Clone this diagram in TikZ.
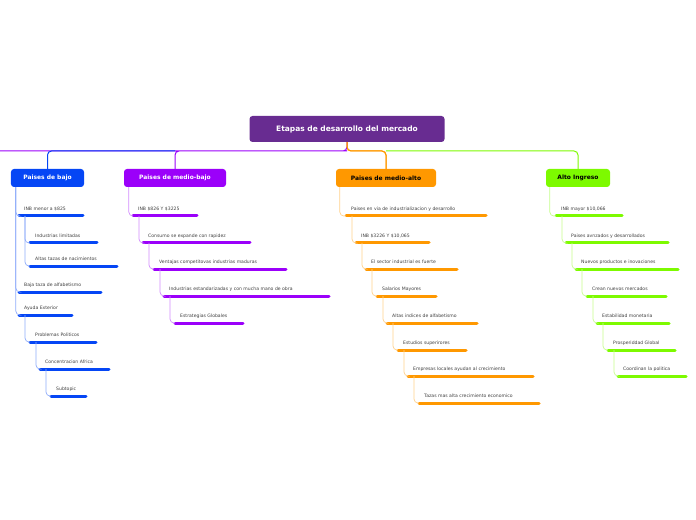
\documentclass[tikz,border=0pt]{standalone}
\usepackage{fontspec}
\setmainfont{DejaVu Sans}
\usetikzlibrary{calc}
\definecolor{rootpurple}{RGB}{104,44,145}
\definecolor{lowblue}{RGB}{5,70,245}
\definecolor{midpurple}{RGB}{155,0,250}
\definecolor{midorange}{RGB}{255,152,0}
\definecolor{highgreen}{RGB}{125,250,0}
\tikzset{
  rootbox/.style={rectangle, rounded corners=3pt, fill=rootpurple, text=white, font=\fontsize{7.5}{9}\selectfont\bfseries, minimum width=195bp, minimum height=26bp, inner sep=0pt},
  mainbox/.style={rectangle, rounded corners=3pt, font=\fontsize{6}{7}\selectfont\bfseries, minimum height=18bp, inner sep=0pt},
  subtxt/.style={anchor=west, inner sep=0pt, font=\fontsize{4.6}{5}\selectfont, text=black!75},
  bar/.style={line width=3bp, line cap=round},
  link/.style={line width=0.7bp, rounded corners=4bp},
  trunk/.style={line width=1bp, rounded corners=4bp}
}
% one sub topic: colour, name, x, y, bar end, text
\newcommand{\sub}[6]{%
  \node[subtxt] (#2) at (#3,#4) {#6};
  \draw[bar,#1] (#3-5,#4+7) coordinate (#2-l) -- (#5,#4+7) coordinate (#2-r);}
% connector from parent bar to child bar
\newcommand{\conn}[3]{\draw[link,#1!45] ($(#2)+(6,0)$) |- (#3);}
\begin{document}
\begin{tikzpicture}[x=1bp,y=-1bp]
\useasboundingbox (0,0) rectangle (696,520);

% Root
\node[rootbox] (root) at (347,129) {Etapas de desarrollo del mercado};

% Main topics
\node[mainbox, fill=lowblue, text=white, minimum width=73bp] (bajo) at (47.5,178) {Paises de bajo};
\node[mainbox, fill=midpurple, text=white, minimum width=102bp] (mbajo) at (175,178) {Paises de medio-bajo};
\node[mainbox, fill=midorange, text=black, minimum width=100bp] (malto) at (386,178) {Paises de medio-alto};
\node[mainbox, fill=highgreen, text=black, minimum width=64bp] (alto) at (578,178) {Alto Ingreso};

\draw[trunk, midpurple] (root.south) |- (0,151) coordinate (tmp) (root.south |- tmp) -| (mbajo.north);
\draw[trunk, lowblue] (mbajo.north |- tmp) -| (bajo.north);
\draw[trunk, midorange] (root.south) |- (malto.north |- tmp) -- (malto.north);
\draw[trunk, highgreen] (malto.north |- tmp) -| (alto.north);
\draw[trunk, midorange] (root.south) -- (root.south |- tmp) -| (malto.north);

% Paises de bajo
\sub{lowblue}{b1}{24}{209}{83}{INB menor a \$825}
\sub{lowblue}{b2}{35}{236}{97}{Industrias limitadas}
\sub{lowblue}{b3}{35}{259}{117}{Altas tazas de nacimientos}
\sub{lowblue}{b4}{24}{285}{101}{Baja taza de alfabetismo}
\sub{lowblue}{b5}{24}{308}{72}{Ayuda Exterior}
\sub{lowblue}{b6}{35}{335}{96}{Problemas Politicos}
\sub{lowblue}{b7}{45}{362}{109}{Concentracion Africa}
\sub{lowblue}{b8}{56}{389}{86}{Subtopic}
\coordinate (bajo-l) at ($(bajo.south west)+(-1,0)$);
\foreach \c in {b1,b4,b5} {\conn{lowblue}{bajo-l}{\c-l}}
\foreach \c in {b2,b3} {\conn{lowblue}{b1-l}{\c-l}}
\conn{lowblue}{b5-l}{b6-l}
\conn{lowblue}{b6-l}{b7-l}
\conn{lowblue}{b7-l}{b8-l}

% Paises de medio-bajo
\sub{midpurple}{p1}{138}{209}{197}{INB \$826 Y \$3225}
\sub{midpurple}{p2}{148}{236}{250}{Consumo se expande con rapidez}
\sub{midpurple}{p3}{159}{262}{286}{Ventajas competitovas industrias maduras}
\sub{midpurple}{p4}{169}{289}{329}{Industrias estandarizadas y con mucha mano de obra}
\sub{midpurple}{p5}{180}{316}{243}{Estrategias Globales}
\coordinate (mbajo-l) at ($(mbajo.south west)+(-1,0)$);
\conn{midpurple}{mbajo-l}{p1-l}
\foreach \a/\c in {p1/p2,p2/p3,p3/p4,p4/p5} {\conn{midpurple}{\a-l}{\c-l}}

% Paises de medio-alto
\sub{midorange}{o1}{351}{209}{486}{Paises en via de industrializacion y desarrollo}
\sub{midorange}{o2}{361}{236}{429}{INB \$3226 Y \$10,065}
\sub{midorange}{o3}{371}{262}{457}{El sector industrial es fuerte}
\sub{midorange}{o4}{382}{289}{436}{Salarios Mayores}
\sub{midorange}{o5}{392}{316}{477}{Altas indices de alfabetismo}
\sub{midorange}{o6}{403}{343}{466}{Estudios superirores}
\sub{midorange}{o7}{413}{369}{533}{Empresas locales ayudan al crecimiento}
\sub{midorange}{o8}{424}{396}{539}{Tazas mas alta crecimiento economico}
\coordinate (malto-l) at ($(malto.south west)+(-2,0)$);
\conn{midorange}{malto-l}{o1-l}
\foreach \a/\c in {o1/o2,o2/o3,o3/o4,o4/o5,o5/o6,o6/o7,o7/o8} {\conn{midorange}{\a-l}{\c-l}}

% Alto Ingreso
\sub{highgreen}{g1}{561}{209}{622}{INB mayor \$10,066}
\sub{highgreen}{g2}{571}{236}{668}{Paises avnzados y desarrollados}
\sub{highgreen}{g3}{581}{262}{678}{Nuevos productos e inovaciones}
\sub{highgreen}{g4}{592}{289}{666}{Crean nuevos mercados}
\sub{highgreen}{g5}{602}{316}{669}{Estabilidad monetaria}
\sub{highgreen}{g6}{613}{343}{675}{Prosperiddad Global}
\sub{highgreen}{g7}{623}{369}{686}{Coordinan la politica}
\coordinate (alto-l) at ($(alto.south west)+(-2,0)$);
\conn{highgreen}{alto-l}{g1-l}
\foreach \a/\c in {g1/g2,g2/g3,g3/g4,g4/g5,g5/g6,g6/g7} {\conn{highgreen}{\a-l}{\c-l}}

\end{tikzpicture}
\end{document}
